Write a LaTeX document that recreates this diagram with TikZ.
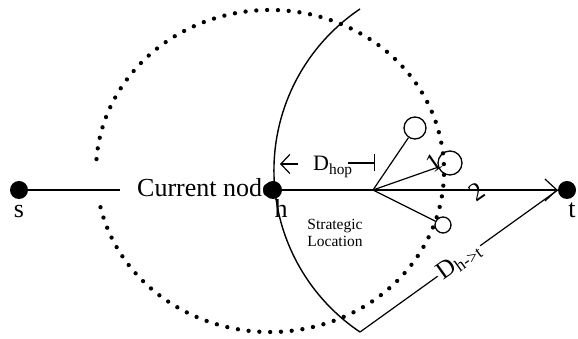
\documentclass[tikz,border=0pt]{standalone}
\usepackage{fontspec}
\setmainfont{Liberation Serif}
\usetikzlibrary{arrows.meta}
\begin{document}
\begin{tikzpicture}[x=1pt,y=1pt,
  font=\fontsize{26}{30}\selectfont,
  dot/.style={circle, fill=black, inner sep=0pt, minimum size=18pt},
  cand/.style={circle, draw, line width=1.3pt, inner sep=0pt},
  ln/.style={line width=1.2pt},
  dotring/.style={line width=4.3pt, line cap=round, dash pattern=on 0pt off 10.8pt},
  lab/.style={font=\fontsize{26}{30}\selectfont, anchor=base},
  small/.style={font=\fontsize{15.5}{16.5}\selectfont, align=center},
  barb/.style={ln, -{Straight Barb[length=9pt,width=19pt]}}
]
\useasboundingbox (0,0) rectangle (578,339);
% dotted range of h
\draw[dotring] (270,168) ++(193:174 and 161) arc[start angle=193, end angle=538.6, x radius=174, y radius=161];
% nodes on the route
\node (cur) [anchor=base west, inner sep=0pt] at (137,142) {Current node};
\node[dot] (s) at (19,149) {};
\node[dot] (t) at (567,149) {};
\coordinate (sl) at (373,149);
\coordinate (sw) at (120,149);
\draw[ln] (s) -- (sw);
\node[lab] at (19,121) {s};
\node[lab] at (281,121) {h};
\node[lab] at (572,121) {t};
% solid arc round t
\coordinate (arctop) at (360,330);
\draw[line width=1.4pt] (arctop) arc[start angle=123.9, end angle=236.1, radius=194.6] coordinate (arcbot);
\node[dot] (h) at (273,149) {};
% route h -> t
\draw[ln, -{Straight Barb[length=12pt,width=22pt]}] (h) -- (t.west);
\draw[ln] (arcbot) -- node[sloped, fill=white, inner xsep=2pt, inner ysep=1pt, font=\fontsize{25}{28}\selectfont] {D\textsubscript{h->t}} (t.west);
% candidate next hops
\node[cand, minimum size=22pt] (c1) at (415,211) {};
\node[cand, minimum size=24pt] (c2) at (450,176) {};
\node[cand, minimum size=16pt] (c3) at (443,114) {};
\draw[ln] (sl) -- (c1);
\draw[ln] (sl) -- (c2);
\draw[ln] (sl) -- (c3);
\node[rotate=35] at (434,176) {1};
\node[rotate=35] at (477,147) {2};
% hop distance
\node (hop) [anchor=base west, inner sep=0pt, font=\fontsize{22}{26}\selectfont] at (313,168) {D\textsubscript{hop}};
\coordinate (hopa) at (298,175);
\coordinate (hopb) at (280,175);
\coordinate (hopc) at (348,176);
\coordinate (hopd) at (375,176);
\draw[barb] (hopa) -- (hopb);
\draw[ln, -{Bar[width=17pt]}] (hopc) -- (hopd);
\node[small] (sloc) at (335,106) {Strategic\\Location};
\end{tikzpicture}
\end{document}
